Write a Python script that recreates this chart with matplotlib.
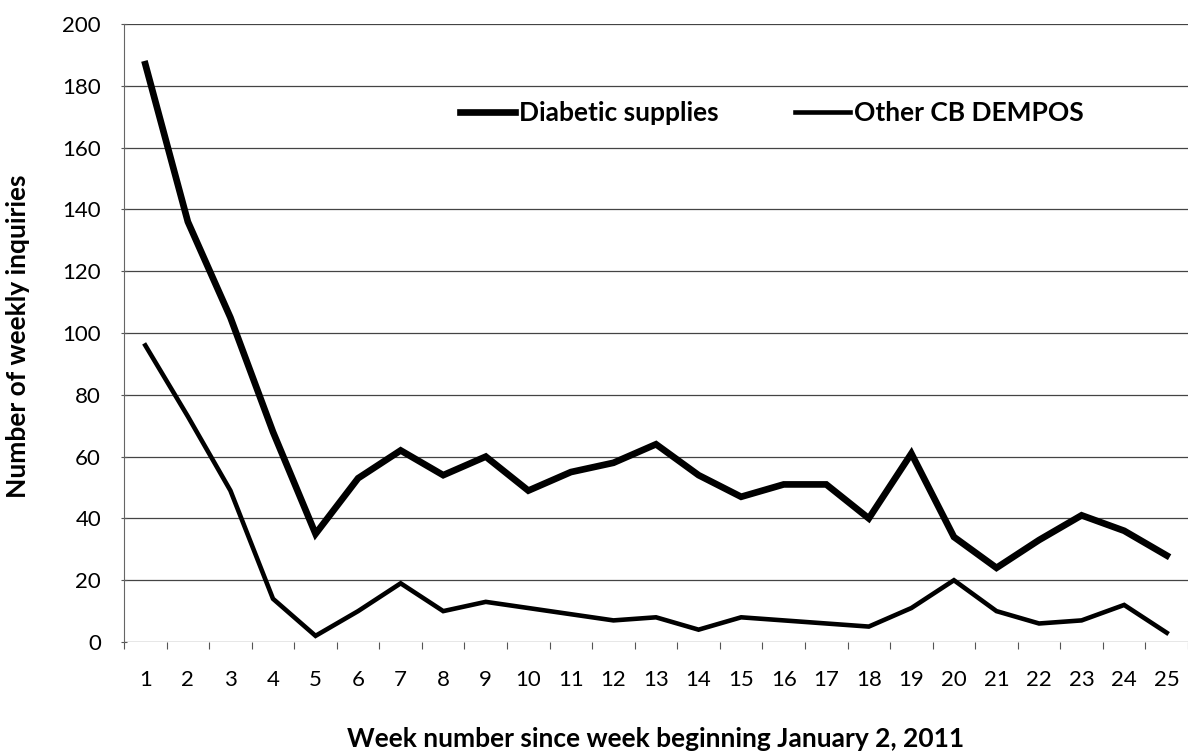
import matplotlib
matplotlib.use("Agg")
import matplotlib.pyplot as plt
import numpy as np

# weekly inquiry counts
weeks = list(range(1, 26))
diabetic = [187, 136, 105, 68, 35, 53, 62, 54, 60, 49, 55, 58, 64, 54, 47,
            51, 51, 40, 61, 34, 24, 33, 41, 36, 28]
other_cb = [96, 73, 49, 14, 2, 10, 19, 10, 13, 11, 9, 7, 8, 4, 8,
            7, 6, 5, 11, 20, 10, 6, 7, 12, 3]
series_names = ["Diabetic supplies", "Other CB DEMPOS"]
y_ticks = list(range(0, 201, 20))

plt.rcParams["font.family"] = ["Lato", "DejaVu Sans"]

fig = plt.figure(figsize=(11.88, 7.54), dpi=100)
ax = fig.add_axes([0.1044, 0.1485, 0.8956, 0.8197])

ax.plot(weeks, diabetic, color="black", linewidth=4.8, solid_joinstyle="miter",
        label=series_names[0])
ax.plot(weeks, other_cb, color="black", linewidth=3.3, solid_joinstyle="miter",
        label=series_names[1])

ax.set_xlim(0.5, 25.5)
ax.set_ylim(0, 200)
ax.set_yticks(y_ticks)
ax.set_xticks(weeks)
ax.set_xticks(np.arange(0.5, 26, 1), minor=True)
ax.tick_params(axis="x", which="major", length=0, pad=20, labelsize=16)
ax.tick_params(axis="x", which="minor", length=5, width=0.8, color="#555555")
ax.tick_params(axis="y", which="major", length=5, width=0.8, color="#555555",
               direction="inout", labelsize=16, pad=14)

ax.yaxis.grid(True, color="#444444", linewidth=0.9)
ax.set_axisbelow(True)

for s in ["top", "right", "bottom"]:
    ax.spines[s].set_visible(False)
ax.spines["left"].set_color("#666666")
ax.spines["left"].set_linewidth(0.8)

ax.set_ylabel("Number of weekly inquiries", fontsize=19, fontweight="bold")
ax.yaxis.set_label_coords(-0.088, 0.494)
ax.set_xlabel("Week number since week beginning January 2, 2011", fontsize=19,
              fontweight="bold")
ax.xaxis.set_label_coords(0.5, -0.138)

ax.legend(loc="center left", bbox_to_anchor=(0.293, 0.856), ncol=2, frameon=False,
          handlelength=2.1, handletextpad=0.15, columnspacing=2.9,
          prop={"size": 19, "weight": "bold"})

fig.savefig("out.png", dpi=100)
